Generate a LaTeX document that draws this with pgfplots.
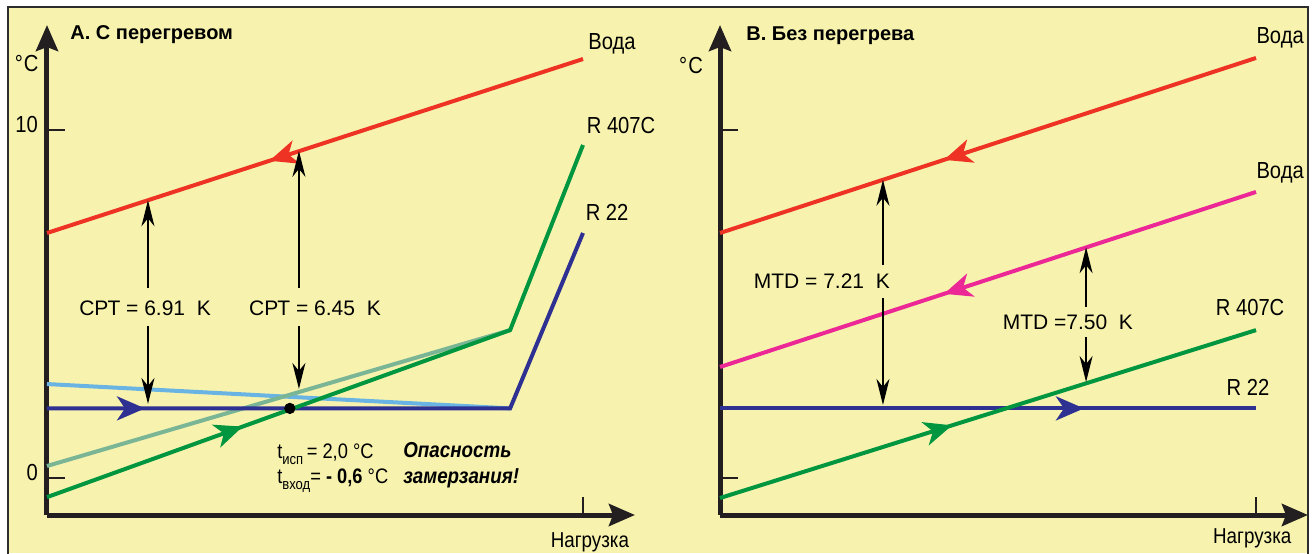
\documentclass[border=0pt]{standalone}
\usepackage{fontspec}
\setmainfont{Liberation Sans}
\newfontfamily\narrow{Liberation Sans}[FakeStretch=0.87]
\usepackage{pgfplots}
\pgfplotsset{compat=1.18}
\usetikzlibrary{arrows.meta,decorations.markings}

\definecolor{bgyellow}{RGB}{247,243,174}
\definecolor{bordergray}{RGB}{45,45,45}
\definecolor{axisblack}{RGB}{35,31,32}
\definecolor{redline}{RGB}{238,50,36}
\definecolor{greenline}{RGB}{0,150,64}
\definecolor{blueline}{RGB}{46,49,146}
\definecolor{lightblue}{RGB}{106,180,228}
\definecolor{lightgreen}{RGB}{122,182,150}
\definecolor{magentaline}{RGB}{236,40,150}

\newcommand{\lbl}{\fontsize{10.5}{12}\selectfont}
\newcommand{\lblbig}{\narrow\fontsize{11.6}{13}\selectfont}
\newcommand{\ttl}{\fontsize{10}{12}\selectfont\bfseries}

\tikzset{
  bigtip/.tip={Stealth[length=14pt,width=12pt,inset=4pt]},
  fwd/.style={postaction={decorate},decoration={markings,mark=at position #1 with {\arrow{bigtip}}}},
  bwd/.style={postaction={decorate},decoration={markings,mark=at position #1 with {\arrowreversed{bigtip}}}},
}

\pgfplotsset{
  myax/.style={
    scale only axis, width=294pt, height=245pt,
    xmin=0, xmax=10.97, ymin=-1.063, ymax=13.017,
    axis lines=left,
    axis line style={line width=2.5pt, color=axisblack, -{Stealth[length=13pt,width=11pt,inset=2pt]}},
    xtick={10}, xticklabels={},
    ytick={0,10},
    tick align=inside,
    major tick length=9pt,
    tick style={line width=1pt, color=axisblack},
    clip=false,
    /pgf/number format/assume math mode=true,
    tick label style={font=\lblbig},
    yticklabel style={xshift=-1pt, yshift=2.5pt},
  },
  curve/.style={line width=2pt, #1},
  ann/.style={black, line width=0.75pt, -{Stealth[length=13pt,width=6.5pt,inset=4pt]}},
}

\begin{document}
\begin{tikzpicture}[x=1pt,y=1pt]
\useasboundingbox (0,0) rectangle (656,276.5);
\fill[white] (0,0) rectangle (656,276.5);
\fill[bgyellow] (4,0) rectangle (654,273);
\draw[bordergray, line width=1.1pt] (4,-1) -- (4,273) -- (654,273) -- (654,-1);

% ---------------- Panel A ----------------
\begin{axis}[myax, at={(23.5pt,19pt)}, anchor=south west]
\addplot[curve=lightblue] coordinates {(0,2.70) (8.64,2.00)};
\addplot[curve=lightgreen] coordinates {(0,0.345) (8.64,4.25)};
\addplot[curve=blueline, fwd=49pt] coordinates {(0,2.00) (8.64,2.00) (10,7.04)};
\addplot[curve=greenline, fwd=104pt] coordinates {(0,-0.55) (8.64,4.25) (10,9.57)};
\addplot[curve=redline, bwd=0.415] coordinates {(0,7.04) (10,12.04)};
\addplot[only marks, mark=*, mark size=2.6pt, black] coordinates {(4.53,2.00)};

\addplot[ann] coordinates {(1.884,5.46) (1.884,7.98)};
\addplot[ann] coordinates {(1.884,4.37) (1.884,2.13)};
\addplot[ann] coordinates {(4.70,5.46) (4.70,9.40)};
\addplot[ann] coordinates {(4.70,4.37) (4.70,2.56)};

\node[font=\lbl] at (axis cs:1.83,4.885) {СРТ = 6.91\ \ K};
\node[font=\lbl] at (axis cs:5.00,4.885) {СРТ = 6.45\ \ K};

\node[font=\narrow\fontsize{10.5}{12}\selectfont, anchor=base west, inner sep=0pt] at (axis cs:4.29,0.575)
  {t\raisebox{-0.6ex}{\fontsize{7.5}{8}\selectfont исп}\,= 2,0 °C};
\node[font=\narrow\fontsize{10.5}{12}\selectfont, anchor=base west, inner sep=0pt] at (axis cs:4.29,-0.144)
  {t\raisebox{-0.6ex}{\fontsize{7.5}{8}\selectfont вход}= \textbf{- 0,6} °C};
\node[font=\narrow\fontsize{10.8}{12}\selectfont\bfseries\itshape, anchor=base west, inner sep=0pt] at (axis cs:6.64,0.60) {Опасность};
\node[font=\narrow\fontsize{10.8}{12}\selectfont\bfseries\itshape, anchor=base west, inner sep=0pt] at (axis cs:6.64,-0.144) {замерзания!};

\node[font=\lblbig] at (axis cs:10.54,12.49) {Вода};
\node[font=\lblbig] at (axis cs:10.71,10.14) {R 407C};
\node[font=\lblbig] at (axis cs:10.45,7.64) {R 22};
\node[font=\ttl, anchor=west, inner sep=0pt] at (axis cs:0.43,12.73) {A. С перегревом};
\node[font=\lblbig] at (axis cs:-0.38,11.90) {°\kern0.5pt C};
\node[font=\narrow\fontsize{10.8}{12}\selectfont] at (axis cs:10.13,-1.86) {Нагрузка};
\end{axis}

% ---------------- Panel B ----------------
\begin{axis}[myax, at={(360pt,19pt)}, anchor=south west, yticklabels={}]
\addplot[curve=blueline, fwd=0.679] coordinates {(0,2.00) (10,2.00)};
\addplot[curve=greenline, fwd=0.433] coordinates {(0,-0.575) (10,4.25)};
\addplot[curve=magentaline, bwd=0.418] coordinates {(0,3.19) (10,8.22)};
\addplot[curve=redline, bwd=0.418] coordinates {(0,7.04) (10,12.07)};

\addplot[ann] coordinates {(3.04,6.12) (3.04,8.57)};
\addplot[ann] coordinates {(3.04,5.17) (3.04,2.10)};
\addplot[ann] coordinates {(6.83,4.91) (6.83,6.63)};
\addplot[ann] coordinates {(6.83,4.05) (6.83,2.76)};

\node[font=\lbl] at (axis cs:1.90,5.66) {MTD = 7.21\ \ K};
\node[font=\lbl] at (axis cs:6.49,4.48) {MTD =7.50\ \ K};

\node[font=\lblbig] at (axis cs:10.45,12.64) {Вода};
\node[font=\lblbig] at (axis cs:10.45,8.76) {Вода};
\node[font=\lblbig] at (axis cs:9.89,4.885) {R 407C};
\node[font=\lblbig] at (axis cs:9.85,2.59) {R 22};
\node[font=\ttl, anchor=west, inner sep=0pt] at (axis cs:0.485,12.70) {B. Без перегрева};
\node[font=\lblbig] at (axis cs:-0.54,11.85) {°\kern0.5pt C};
\node[font=\narrow\fontsize{10.8}{12}\selectfont] at (axis cs:9.93,-1.72) {Нагрузка};
\end{axis}
\end{tikzpicture}
\end{document}
